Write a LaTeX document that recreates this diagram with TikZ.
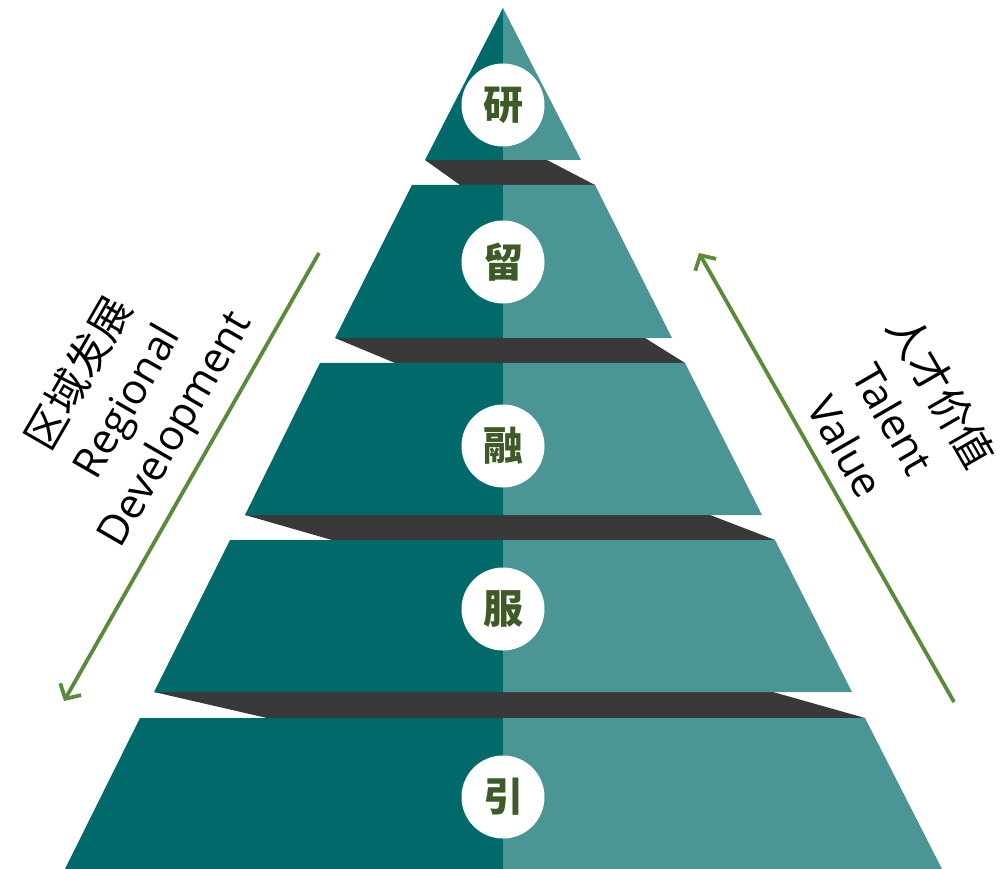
\documentclass[tikz,border=0pt]{standalone}
\usepackage{fontspec}
\setmainfont{Open Sans}
\newfontfamily\cjk{Noto Sans CJK SC}
\newfontfamily\cjkb{Noto Sans CJK SC}[UprightFont=* Black]
\usetikzlibrary{arrows.meta}
\definecolor{tealL}{HTML}{006A6A}
\definecolor{tealR}{HTML}{4B9595}
\definecolor{band}{HTML}{393939}
\definecolor{arrowg}{HTML}{5B8A3A}
\definecolor{chg}{HTML}{3D5A27}
\tikzset{
  lefthalf/.style={fill=tealL, draw=none},
  righthalf/.style={fill=tealR, draw=none},
  darkband/.style={fill=band, draw=none},
  badge/.style={circle, fill=white, minimum size=83pt, inner sep=0pt, text=chg, font=\cjkb\fontsize{40}{40}\selectfont},
  sidearrow/.style={draw=arrowg, line width=3.8pt, -{Straight Barb[length=11pt,width=24pt,line width=3.8pt]}},
  sidelabel/.style={align=center, text=black, font=\fontsize{42}{55}\selectfont, inner sep=0pt}
}
\begin{document}
\begin{tikzpicture}[x=1pt,y=-1pt]
\useasboundingbox (0,0) rectangle (1005,869);
\fill[white] (0,0) rectangle (1005,869);
% dark bands
\fill[darkband] (425,160) -- (547,160) -- (595,185) -- (460,185) -- cycle;
\fill[darkband] (335,338) -- (645,338) -- (685,363) -- (395,363) -- cycle;
\fill[darkband] (245,515) -- (710,515) -- (775,540) -- (332,540) -- cycle;
\fill[darkband] (154,692) -- (773,692) -- (865,718) -- (267,718) -- cycle;
% tier 1
\fill[lefthalf] (503,8) -- (503,160) -- (425,160) -- cycle;
\fill[righthalf] (503,8) -- (503,160) -- (581,160) -- cycle;
% tier 2
\fill[lefthalf] (412,185) -- (503,185) -- (503,338) -- (335,338) -- cycle;
\fill[righthalf] (503,185) -- (595,185) -- (672,338) -- (503,338) -- cycle;
% tier 3
\fill[lefthalf] (320,363) -- (503,363) -- (503,515) -- (245,515) -- cycle;
\fill[righthalf] (503,363) -- (685,363) -- (762,515) -- (503,515) -- cycle;
% tier 4
\fill[lefthalf] (230,540) -- (503,540) -- (503,692) -- (154,692) -- cycle;
\fill[righthalf] (503,540) -- (775,540) -- (852,692) -- (503,692) -- cycle;
% tier 5
\fill[lefthalf] (140,718) -- (503,718) -- (503,869) -- (65,869) -- cycle;
\fill[righthalf] (503,718) -- (865,718) -- (942,869) -- (503,869) -- cycle;
% badges
\node[badge] (yan) at (503,105) {研};
\node[badge] (liu) at (503,262) {留};
\node[badge] (rong) at (503,446) {融};
\node[badge] (fu) at (503,609) {服};
\node[badge] (yin) at (503,797) {引};
% arrows
\coordinate (la) at (319,253);
\coordinate (lb) at (64,701);
\coordinate (ra) at (954,702);
\coordinate (rb) at (699,253);
\draw[sidearrow] (la) -- (lb);
\draw[sidearrow] (ra) -- (rb);
% labels
\node[sidelabel, rotate=60] (regional) at (128,402) {{\cjk 区域发展}\\Regional\\Development};
\node[sidelabel, rotate=-60] (talent) at (895,418) {{\cjk 人才价值}\\Talent\\Value};
\end{tikzpicture}
\end{document}
